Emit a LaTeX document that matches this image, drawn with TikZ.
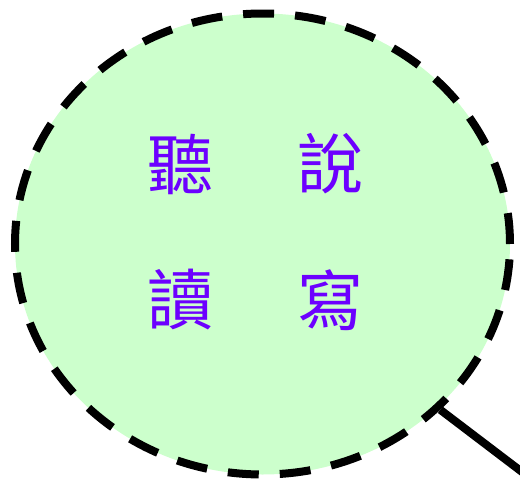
\documentclass[tikz,border=0pt]{standalone}
\usepackage{fontspec}
\newfontfamily\cjk{Noto Sans CJK TC}
\usetikzlibrary{shapes.geometric}
\definecolor{lensgreen}{RGB}{204,255,204}
\definecolor{wordpurple}{RGB}{108,0,255}
\tikzset{
  word/.style={text=wordpurple, font=\cjk\fontsize{66}{66}\selectfont, inner sep=0pt},
}
\begin{document}
\begin{tikzpicture}[x=1pt, y=-1pt]
\useasboundingbox (0,0) rectangle (520,482);

% lente
\node[ellipse, draw=black, fill=lensgreen, line width=8pt,
      dash pattern=on 31pt off 21pt, minimum width=495pt, minimum height=461pt,
      inner sep=0pt] (lens) at (262.5,244) {};

% manico
\coordinate (tip) at (530,478);
\draw[line width=8pt] (lens.-43.6) -- (tip);

% parole
\node[word] (ting) at (180,164) {聽};
\node[word] (shuo) at (330,164) {說};
\node[word] (du)   at (180,300) {讀};
\node[word] (xie)  at (330,300) {寫};

\end{tikzpicture}
\end{document}
